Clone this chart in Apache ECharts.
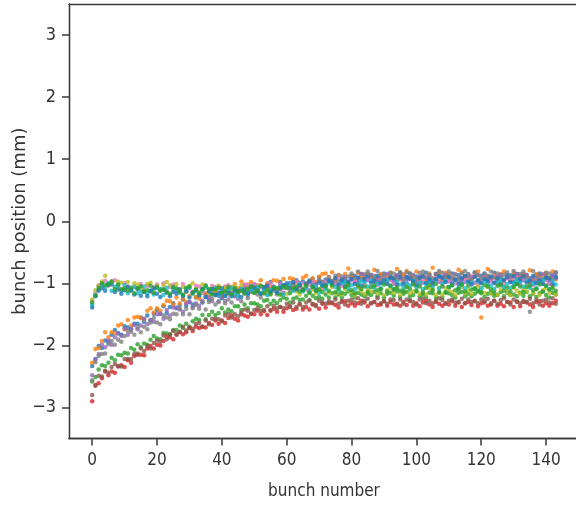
<!DOCTYPE html>
<html>
<head>
<meta charset="utf-8">
<script src="https://cdn.jsdelivr.net/npm/echarts@6/dist/echarts.min.js"></script>
<style>html,body{margin:0;padding:0;background:#fff;overflow:hidden}#c{width:576px;height:505px}</style>
</head>
<body>
<div id="c"></div>
<script>
const xTicks = [0, 20, 40, 60, 80, 100, 120, 140];
const yTicks = [-3, -2, -1, 0, 1, 2, 3];
const xLabel = 'bunch number';
const yLabel = 'bunch position (mm)';

const blue = [
-2.33,-2.22,-2.01,-2.04,-1.92,-1.95,-1.83,-1.75,-1.81,-1.83,-1.69,-1.71,
-1.74,-1.65,-1.65,-1.55,-1.62,-1.52,-1.60,-1.49,-1.43,-1.49,-1.37,-1.48,
-1.38,-1.32,-1.40,-1.35,-1.26,-1.36,-1.30,-1.34,-1.23,-1.22,-1.31,-1.18,
-1.27,-1.15,-1.16,-1.20,-1.24,-1.12,-1.09,-1.18,-1.12,-1.17,-1.09,-1.03,
-1.05,-1.12,-1.02,-1.12,-1.06,-1.12,-1.02,-0.98,-1.06,-1.11,-0.98,-1.03,
-1.07,-1.00,-1.02,-0.95,-1.04,-0.97,-1.06,-0.98,-0.93,-1.01,-0.90,-1.03,
-0.94,-0.90,-0.99,-0.96,-0.87,-0.99,-0.93,-0.99,-0.88,-0.88,-0.98,-0.85,
-0.96,-0.85,-0.87,-0.92,-0.97,-0.86,-0.84,-0.94,-0.89,-0.95,-0.88,-0.83,
-0.86,-0.93,-0.84,-0.95,-0.89,-0.96,-0.87,-0.83,-0.92,-0.97,-0.85,-0.90,
-0.95,-0.88,-0.91,-0.84,-0.94,-0.87,-0.97,-0.89,-0.85,-0.93,-0.83,-0.96,
-0.88,-0.84,-0.94,-0.91,-0.83,-0.95,-0.90,-0.96,-0.86,-0.87,-0.97,-0.85,
-0.96,-0.85,-0.87,-0.92,-0.97,-0.86,-0.84,-0.94,-0.89,-0.95,-0.88,-0.83];

const orange = [
-2.28,-2.06,-2.04,-1.93,-1.79,-1.87,-1.79,-1.81,-1.68,-1.66,-1.74,-1.59,
-1.68,-1.55,-1.54,-1.56,-1.58,-1.44,-1.40,-1.47,-1.40,-1.44,-1.35,-1.28,
-1.29,-1.34,-1.23,-1.32,-1.25,-1.30,-1.20,-1.14,-1.22,-1.25,-1.12,-1.16,
-1.19,-1.11,-1.13,-1.05,-1.14,-1.06,-1.15,-1.06,-1.01,-1.08,-0.97,-1.09,
-1.02,-0.98,-1.07,-1.03,-0.95,-1.06,-1.00,-1.06,-0.95,-0.96,-1.05,-0.93,
-1.03,-0.92,-0.93,-0.98,-1.02,-0.91,-0.88,-0.98,-0.92,-0.98,-0.90,-0.85,
-0.84,-0.91,-0.82,-0.93,-0.87,-0.94,-0.85,-0.76,-0.90,-0.95,-0.83,-0.88,
-0.93,-0.86,-0.89,-0.78,-0.92,-0.85,-0.95,-0.87,-0.83,-0.91,-0.77,-0.94,
-0.86,-0.80,-0.92,-0.89,-0.81,-0.93,-0.88,-0.94,-0.84,-0.75,-0.95,-0.83,
-0.94,-0.83,-0.85,-0.90,-0.95,-0.78,-0.82,-0.92,-0.87,-0.93,-0.86,-0.81,
-1.55,-0.91,-0.77,-0.93,-0.87,-0.94,-0.85,-0.81,-0.90,-0.95,-0.83,-0.88,
-0.93,-0.86,-0.89,-0.79,-0.92,-0.85,-0.95,-0.87,-0.83,-0.91,-0.81,-0.94];

const green = [
-2.58,-2.51,-2.39,-2.32,-2.33,-2.28,-2.20,-2.24,-2.15,-2.16,-2.12,-2.13,
-2.04,-2.07,-1.98,-2.03,-1.97,-1.99,-1.91,-1.85,-1.89,-1.90,-1.80,-1.81,
-1.82,-1.75,-1.75,-1.68,-1.72,-1.65,-1.70,-1.61,-1.57,-1.59,-1.51,-1.58,
-1.51,-1.46,-1.51,-1.48,-1.40,-1.47,-1.42,-1.45,-1.37,-1.37,-1.43,-1.34,
-1.40,-1.32,-1.32,-1.34,-1.37,-1.28,-1.27,-1.33,-1.28,-1.32,-1.27,-1.23,
-1.25,-1.31,-1.25,-1.23,-1.27,-1.26,-1.20,-1.27,-1.20,-1.24,-1.22,-1.25,
-1.18,-1.23,-1.16,-1.23,-1.18,-1.23,-1.17,-1.13,-1.19,-1.23,-1.15,-1.18,
-1.21,-1.17,-1.19,-1.14,-1.21,-1.16,-1.23,-1.17,-1.15,-1.20,-1.13,-1.22,
-1.17,-1.14,-1.21,-1.19,-1.13,-1.21,-1.18,-1.22,-1.15,-1.16,-1.23,-1.15,
-1.22,-1.15,-1.16,-1.19,-1.23,-1.15,-1.14,-1.21,-1.17,-1.21,-1.17,-1.13,
-1.16,-1.22,-1.17,-1.15,-1.20,-1.19,-1.14,-1.21,-1.15,-1.19,-1.18,-1.21,
-1.15,-1.20,-1.14,-1.21,-1.17,-1.22,-1.16,-1.13,-1.19,-1.23,-1.15,-1.18];

const red = [
-2.90,-2.64,-2.61,-2.53,-2.42,-2.48,-2.42,-2.44,-2.34,-2.32,-2.35,-2.24,
-2.28,-2.17,-2.15,-2.15,-2.16,-2.05,-2.01,-2.05,-1.99,-2.00,-1.93,-1.86,
-1.87,-1.90,-1.83,-1.79,-1.82,-1.79,-1.72,-1.77,-1.70,-1.72,-1.70,-1.71,
-1.64,-1.67,-1.60,-1.65,-1.60,-1.64,-1.56,-1.52,-1.57,-1.60,-1.50,-1.52,
-1.54,-1.49,-1.50,-1.44,-1.50,-1.45,-1.51,-1.44,-1.41,-1.46,-1.38,-1.46,
-1.40,-1.37,-1.43,-1.41,-1.34,-1.42,-1.38,-1.42,-1.34,-1.35,-1.41,-1.33,
-1.39,-1.32,-1.32,-1.35,-1.39,-1.30,-1.29,-1.36,-1.32,-1.36,-1.32,-1.28,
-1.31,-1.37,-1.32,-1.30,-1.35,-1.34,-1.29,-1.36,-1.30,-1.34,-1.33,-1.36,
-1.30,-1.35,-1.29,-1.36,-1.32,-1.37,-1.31,-1.28,-1.34,-1.38,-1.30,-1.33,
-1.36,-1.32,-1.34,-1.29,-1.36,-1.31,-1.38,-1.32,-1.30,-1.35,-1.28,-1.37,
-1.32,-1.29,-1.36,-1.34,-1.28,-1.36,-1.33,-1.37,-1.30,-1.31,-1.38,-1.30,
-1.37,-1.30,-1.31,-1.34,-1.38,-1.30,-1.29,-1.36,-1.32,-1.36,-1.32,-1.28];

const purple = [
-2.48,-2.23,-2.14,-1.99,-2.03,-1.92,-1.99,-1.87,-1.80,-1.85,-1.73,-1.83,
-1.73,-1.67,-1.74,-1.68,-1.57,-1.66,-1.59,-1.62,-1.50,-1.49,-1.57,-1.43,
-1.52,-1.39,-1.39,-1.42,-1.46,-1.33,-1.30,-1.38,-1.32,-1.36,-1.28,-1.22,
-1.23,-1.29,-1.19,-1.29,-1.22,-1.28,-1.18,-1.13,-1.21,-1.25,-1.12,-1.16,
-1.20,-1.13,-1.15,-1.07,-1.17,-1.09,-1.18,-1.10,-1.05,-1.13,-1.02,-1.15,
-1.06,-1.02,-1.11,-1.08,-0.99,-1.11,-1.05,-1.11,-1.00,-1.01,-1.10,-0.98,
-1.08,-0.96,-0.97,-1.01,-1.05,-0.93,-0.90,-0.99,-0.93,-0.98,-0.91,-0.85,
-0.88,-0.95,-0.86,-0.97,-0.91,-0.98,-0.89,-0.85,-0.94,-0.99,-0.87,-0.92,
-0.97,-0.90,-0.93,-0.86,-0.96,-0.89,-0.99,-0.91,-0.87,-0.95,-0.85,-0.98,
-0.90,-0.86,-0.96,-0.93,-0.85,-0.97,-0.92,-0.98,-0.88,-0.89,-0.99,-0.87,
-0.98,-0.87,-0.89,-0.94,-0.99,-0.88,-0.86,-0.96,-0.91,-0.97,-0.90,-0.85,
-0.88,-0.95,-0.86,-0.97,-0.91,-0.98,-0.89,-0.85,-0.94,-0.99,-0.87,-0.92];

const brown = [
-2.80,-2.65,-2.49,-2.50,-2.41,-2.44,-2.35,-2.30,-2.33,-2.34,-2.22,-2.22,
-2.22,-2.14,-2.13,-2.05,-2.09,-2.01,-2.05,-1.96,-1.92,-1.94,-1.84,-1.90,
-1.83,-1.77,-1.82,-1.78,-1.70,-1.76,-1.71,-1.73,-1.65,-1.64,-1.70,-1.60,
-1.66,-1.57,-1.57,-1.58,-1.61,-1.52,-1.49,-1.55,-1.50,-1.53,-1.47,-1.42,
-1.44,-1.49,-1.43,-1.40,-1.44,-1.43,-1.37,-1.43,-1.36,-1.40,-1.38,-1.40,
-1.33,-1.38,-1.31,-1.38,-1.33,-1.38,-1.31,-1.28,-1.33,-1.37,-1.28,-1.31,
-1.33,-1.29,-1.31,-1.26,-1.33,-1.28,-1.34,-1.28,-1.26,-1.31,-1.24,-1.33,
-1.28,-1.25,-1.32,-1.30,-1.24,-1.32,-1.29,-1.33,-1.26,-1.27,-1.34,-1.26,
-1.33,-1.26,-1.27,-1.30,-1.34,-1.26,-1.25,-1.32,-1.28,-1.32,-1.28,-1.24,
-1.27,-1.33,-1.28,-1.26,-1.31,-1.30,-1.25,-1.32,-1.26,-1.30,-1.29,-1.32,
-1.26,-1.31,-1.25,-1.32,-1.28,-1.33,-1.27,-1.24,-1.30,-1.34,-1.26,-1.29,
-1.32,-1.28,-1.30,-1.25,-1.32,-1.27,-1.34,-1.28,-1.26,-1.31,-1.24,-1.33];

const pink = [
-1.28,-1.16,-1.03,-1.01,-0.96,-1.04,-0.97,-0.95,-1.05,-1.11,-1.00,-1.05,
-1.12,-1.05,-1.08,-1.01,-1.11,-1.04,-1.14,-1.06,-1.02,-1.10,-1.00,-1.13,
-1.06,-1.02,-1.12,-1.09,-1.01,-1.13,-1.08,-1.14,-1.04,-1.05,-1.15,-1.03,
-1.15,-1.04,-1.06,-1.11,-1.16,-1.05,-1.03,-1.13,-1.08,-1.14,-1.07,-1.02,
-1.03,-1.10,-1.01,-1.12,-1.06,-1.13,-1.04,-1.00,-1.09,-1.14,-1.02,-1.07,
-1.08,-1.01,-1.04,-0.97,-1.07,-1.00,-1.10,-1.02,-0.98,-1.06,-0.96,-1.09,
-0.97,-0.93,-1.03,-1.00,-0.92,-1.04,-0.99,-1.05,-0.95,-0.96,-1.06,-0.94,
-1.02,-0.91,-0.93,-0.98,-1.03,-0.92,-0.90,-1.00,-0.95,-1.01,-0.94,-0.89,
-0.92,-0.99,-0.90,-1.01,-0.95,-1.02,-0.93,-0.89,-0.98,-1.03,-0.91,-0.96,
-1.01,-0.94,-0.97,-0.90,-1.00,-0.93,-1.03,-0.95,-0.91,-0.99,-0.89,-1.02,
-0.94,-0.90,-1.00,-0.97,-0.89,-1.01,-0.96,-1.02,-0.92,-0.93,-1.03,-0.91,
-1.02,-0.91,-0.93,-0.98,-1.03,-0.92,-0.90,-1.00,-0.95,-1.01,-0.94,-0.89];

const grey = [
-2.56,-2.27,-2.17,-2.14,-2.13,-1.98,-1.93,-1.99,-1.91,-1.94,-1.85,-1.77,
-1.78,-1.83,-1.71,-1.79,-1.70,-1.74,-1.63,-1.56,-1.63,-1.66,-1.52,-1.55,
-1.58,-1.49,-1.50,-1.41,-1.50,-1.41,-1.50,-1.40,-1.35,-1.41,-1.30,-1.42,
-1.30,-1.25,-1.34,-1.30,-1.21,-1.32,-1.26,-1.31,-1.20,-1.20,-1.29,-1.16,
-1.24,-1.13,-1.14,-1.18,-1.23,-1.11,-1.08,-1.18,-1.12,-1.18,-1.10,-1.05,
-1.05,-1.11,-1.01,-1.11,-1.04,-1.10,-1.00,-0.95,-1.03,-1.07,-0.94,-0.98,
-1.02,-0.94,-0.96,-0.88,-0.97,-0.89,-0.98,-0.89,-0.84,-0.91,-0.81,-0.93,
-0.85,-0.81,-0.91,-0.88,-0.80,-0.92,-0.87,-0.93,-0.83,-0.84,-0.94,-0.82,
-0.93,-0.82,-0.84,-0.89,-0.94,-0.83,-0.81,-0.91,-0.86,-0.92,-0.85,-0.80,
-0.83,-0.90,-0.81,-0.92,-0.86,-0.93,-0.84,-0.80,-0.89,-0.94,-0.82,-0.87,
-0.92,-0.85,-0.88,-0.81,-0.91,-0.84,-0.94,-0.86,-0.82,-0.90,-0.80,-0.93,
-0.85,-0.81,-0.91,-1.46,-0.80,-0.92,-0.87,-0.93,-0.83,-0.84,-0.94,-0.82];

const olive = [
-1.26,-1.11,-1.04,-0.97,-0.88,-1.01,-0.98,-1.06,-0.97,-0.99,-1.10,-0.98,
-1.11,-1.00,-1.02,-1.07,-1.12,-1.01,-0.99,-1.09,-1.04,-1.10,-1.03,-0.98,
-1.03,-1.10,-1.01,-1.12,-1.06,-1.13,-1.04,-1.00,-1.09,-1.14,-1.02,-1.07,
-1.15,-1.08,-1.11,-1.04,-1.14,-1.07,-1.17,-1.09,-1.05,-1.13,-1.03,-1.16,
-1.09,-1.05,-1.15,-1.12,-1.04,-1.16,-1.11,-1.17,-1.07,-1.08,-1.18,-1.06,
-1.17,-1.06,-1.08,-1.13,-1.18,-1.07,-1.05,-1.15,-1.10,-1.16,-1.09,-1.04,
-1.08,-1.15,-1.06,-1.17,-1.11,-1.18,-1.09,-1.05,-1.14,-1.19,-1.07,-1.12,
-1.17,-1.10,-1.13,-1.06,-1.16,-1.09,-1.19,-1.11,-1.07,-1.15,-1.05,-1.18,
-1.10,-1.06,-1.16,-1.13,-1.05,-1.17,-1.12,-1.18,-1.08,-1.09,-1.19,-1.07,
-1.18,-1.07,-1.09,-1.14,-1.19,-1.08,-1.06,-1.16,-1.11,-1.17,-1.10,-1.05,
-1.08,-1.15,-1.06,-1.17,-1.11,-1.18,-1.09,-1.05,-1.14,-1.19,-1.07,-1.12,
-1.17,-1.10,-1.13,-1.06,-1.16,-1.09,-1.19,-1.11,-1.07,-1.15,-1.05,-1.18];

const cyan = [
-1.35,-1.19,-1.10,-1.02,-1.06,-1.00,-1.12,-1.06,-1.03,-1.12,-1.03,-1.16,
-1.10,-1.06,-1.16,-1.13,-1.05,-1.17,-1.12,-1.18,-1.08,-1.09,-1.19,-1.07,
-1.19,-1.08,-1.10,-1.15,-1.20,-1.09,-1.07,-1.17,-1.12,-1.18,-1.11,-1.06,
-1.10,-1.17,-1.08,-1.19,-1.13,-1.20,-1.11,-1.07,-1.16,-1.21,-1.09,-1.14,
-1.17,-1.10,-1.13,-1.06,-1.16,-1.09,-1.19,-1.11,-1.07,-1.15,-1.05,-1.18,
-1.06,-1.02,-1.12,-1.09,-1.01,-1.13,-1.08,-1.14,-1.04,-1.05,-1.15,-1.03,
-1.10,-0.99,-1.01,-1.06,-1.11,-1.00,-0.98,-1.08,-1.03,-1.09,-1.02,-0.97,
-0.98,-1.05,-0.96,-1.07,-1.01,-1.08,-0.99,-0.95,-1.04,-1.09,-0.97,-1.02,
-1.07,-1.00,-1.03,-0.96,-1.06,-0.99,-1.09,-1.01,-0.97,-1.05,-0.95,-1.08,
-1.00,-0.96,-1.06,-1.03,-0.95,-1.07,-1.02,-1.08,-0.98,-0.99,-1.09,-0.97,
-1.08,-0.97,-0.99,-1.04,-1.09,-0.98,-0.96,-1.06,-1.01,-1.07,-1.00,-0.95,
-0.98,-1.05,-0.96,-1.07,-1.01,-1.08,-0.99,-0.95,-1.04,-1.09,-0.97,-1.02];

const blue2 = [
-1.39,-1.21,-1.12,-1.08,-1.12,-1.02,-1.02,-1.14,-1.10,-1.17,-1.11,-1.06,
-1.11,-1.18,-1.09,-1.20,-1.14,-1.21,-1.12,-1.08,-1.17,-1.22,-1.10,-1.15,
-1.21,-1.14,-1.17,-1.10,-1.20,-1.13,-1.23,-1.15,-1.11,-1.19,-1.09,-1.22,
-1.13,-1.09,-1.19,-1.16,-1.08,-1.20,-1.15,-1.21,-1.11,-1.12,-1.22,-1.10,
-1.16,-1.05,-1.07,-1.12,-1.17,-1.06,-1.04,-1.14,-1.09,-1.15,-1.08,-1.03,
-1.00,-1.07,-0.98,-1.09,-1.03,-1.10,-1.01,-0.97,-1.06,-1.11,-0.99,-1.04,
-1.03,-0.96,-0.99,-0.92,-1.02,-0.95,-1.05,-0.97,-0.93,-1.01,-0.91,-1.04,
-0.93,-0.89,-0.99,-0.96,-0.88,-1.00,-0.95,-1.01,-0.91,-0.92,-1.02,-0.90,
-1.01,-0.90,-0.92,-0.97,-1.02,-0.91,-0.89,-0.99,-0.94,-1.00,-0.93,-0.88,
-0.91,-0.98,-0.89,-1.00,-0.94,-1.01,-0.92,-0.88,-0.97,-1.02,-0.90,-0.95,
-1.00,-0.93,-0.96,-0.89,-0.99,-0.92,-1.02,-0.94,-0.90,-0.98,-0.88,-1.01,
-0.93,-0.89,-0.99,-0.96,-0.88,-1.00,-0.95,-1.01,-0.91,-0.92,-1.02,-0.90];

const green2 = [
-1.31,-1.20,-1.07,-1.00,-1.03,-1.02,-0.97,-1.10,-1.02,-1.09,-1.08,-1.12,
-1.07,-1.16,-1.08,-1.05,-1.13,-1.11,-1.04,-1.15,-1.06,-1.12,-1.10,-1.14,
-1.17,-1.06,-1.08,-1.13,-1.18,-1.07,-1.05,-1.15,-1.10,-1.16,-1.09,-1.04,
-1.09,-1.18,-1.10,-1.07,-1.15,-1.13,-1.06,-1.17,-1.08,-1.14,-1.12,-1.16,
-1.09,-1.05,-1.15,-1.12,-1.04,-1.16,-1.11,-1.17,-1.07,-1.08,-1.18,-1.06,
-1.07,-1.16,-1.08,-1.05,-1.13,-1.11,-1.04,-1.15,-1.06,-1.12,-1.10,-1.14,
-1.05,-1.12,-1.03,-1.14,-1.08,-1.15,-1.06,-1.02,-1.11,-1.16,-1.04,-1.09,
-1.05,-1.14,-1.06,-1.03,-1.11,-1.09,-1.02,-1.13,-1.04,-1.10,-1.08,-1.12,
-1.13,-1.06,-1.09,-1.02,-1.12,-1.05,-1.15,-1.07,-1.03,-1.11,-1.01,-1.14,
-1.05,-1.14,-1.06,-1.03,-1.11,-1.09,-1.02,-1.13,-1.04,-1.10,-1.08,-1.12,
-1.14,-1.03,-1.05,-1.10,-1.15,-1.04,-1.02,-1.12,-1.07,-1.13,-1.06,-1.01,
-1.05,-1.14,-1.06,-1.03,-1.11,-1.09,-1.02,-1.13,-1.04,-1.10,-1.08,-1.12];

const seriesList = [
  { name: 'blue', color: '#1f77b4', values: blue },
  { name: 'orange', color: '#ff7f0e', values: orange },
  { name: 'green', color: '#2ca02c', values: green },
  { name: 'red', color: '#d62728', values: red },
  { name: 'purple', color: '#9467bd', values: purple },
  { name: 'brown', color: '#8c564b', values: brown },
  { name: 'pink', color: '#e377c2', values: pink },
  { name: 'grey', color: '#7f7f7f', values: grey },
  { name: 'olive', color: '#bcbd22', values: olive },
  { name: 'cyan', color: '#17becf', values: cyan },
  { name: 'blue2', color: '#1f77b4', values: blue2 },
  { name: 'green2', color: '#2ca02c', values: green2 }
];

const FONT = "'DejaVu Sans Condensed', 'DejaVu Sans', sans-serif";
const INK = '#3a3a3a';
const X_RANGE = { min: -7.15, max: 150.15 };
const Y_RANGE = { min: -3.5, max: 3.5 };
const tickOnly = (vals) => ({
  axisLine: { show: true, onZero: false, lineStyle: { color: INK, width: 1.3 } },
  axisTick: { show: true, inside: false, length: 7, customValues: vals, lineStyle: { color: INK, width: 1.5 } },
  axisLabel: { show: false }, splitLine: { show: false }
});
const chart = echarts.init(document.getElementById('c'), null, { renderer: 'canvas' });
chart.setOption({
  animation: false,
  backgroundColor: '#fff',
  grid: { left: 69, top: 4, width: 510, height: 434.5, outerBoundsMode: 'none', containLabel: false, show: false },
  xAxis: [{
    type: 'value', ...X_RANGE, position: 'bottom',
    name: xLabel, nameLocation: 'middle', nameGap: 45, nameMoveOverlap: false,
    nameTextStyle: { fontFamily: FONT, fontSize: 17, color: '#333' },
    axisLine: { show: true, onZero: false, lineStyle: { color: INK, width: 1.3 } },
    splitLine: { show: false },
    axisTick: { show: false },
    axisLabel: { customValues: xTicks, margin: 14, fontFamily: FONT, fontSize: 17, color: '#333' }
  }, {
    type: 'value', ...X_RANGE, position: 'top',
    axisLine: { show: true, onZero: false, lineStyle: { color: INK, width: 1.3 } },
    axisTick: { show: false }, axisLabel: { show: false }, splitLine: { show: false }
  }, {
    type: 'value', ...X_RANGE, position: 'bottom', ...tickOnly(xTicks)
  }],
  yAxis: [{
    type: 'value', ...Y_RANGE, position: 'left',
    name: yLabel, nameLocation: 'middle', nameGap: 40, nameRotate: 90, nameMoveOverlap: false,
    nameTextStyle: { fontFamily: "'DejaVu Sans', sans-serif", fontSize: 18, color: '#333' },
    axisLine: { show: true, onZero: false, lineStyle: { color: INK, width: 1.3 } },
    splitLine: { show: false },
    axisTick: { show: false },
    axisLabel: { customValues: yTicks, margin: 13, fontFamily: FONT, fontSize: 18, color: '#333',
      formatter: v => (v < 0 ? '\u2212' + Math.abs(v) : String(v)) }
  }, {
    type: 'value', ...Y_RANGE, position: 'left', ...tickOnly(yTicks)
  }],
  series: seriesList.map(s => ({
    type: 'scatter', name: s.name, xAxisIndex: 0, yAxisIndex: 0,
    symbolSize: 4.5,
    itemStyle: { color: s.color, opacity: 0.8 },
    data: s.values.map((v, i) => [i, v])
  }))
});
</script>
</body>
</html>
